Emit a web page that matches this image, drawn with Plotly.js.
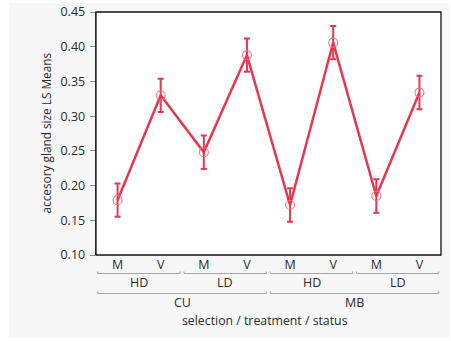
<!DOCTYPE html>
<html>
<head>
<meta charset="utf-8">
<script src="https://cdn.plot.ly/plotly-3.0.1.min.js"></script>
<style>
  html, body { margin: 0; padding: 0; background: #ffffff; }
  #chart { position: absolute; left: 9px; top: 3px; width: 441px; height: 335px; }
</style>
</head>
<body>
<div id="chart"></div>
<script>
// LS means of accessory gland size by selection / treatment / status
const selection = ['CU', 'CU', 'CU', 'CU', 'MB', 'MB', 'MB', 'MB'];
const treatment = ['HD', 'HD', 'LD', 'LD', 'HD', 'HD', 'LD', 'LD'];
const status    = ['M', 'V', 'M', 'V', 'M', 'V', 'M', 'V'];
const lsMeans   = [0.179, 0.330, 0.248, 0.388, 0.172, 0.406, 0.185, 0.334];
const stdErr    = [0.024, 0.024, 0.024, 0.024, 0.024, 0.024, 0.024, 0.024];
const yTicks    = [0.10, 0.15, 0.20, 0.25, 0.30, 0.35, 0.40, 0.45];

const FONT = '"Open Sans", "Noto Sans", sans-serif';
const RED = '#e8364f';
const TEXT = '#2b2b2b';
const BRACKET = '#a6a6a6';
const LABEL_SIZE = 12.5;

const W = 441, H = 335;
const M = { l: 87, r: 9, t: 9, b: 83 };
const plotW = W - M.l - M.r;
const plotH = H - M.t - M.b;
const px = p => -p / plotH;   // pixels below the x axis -> paper y

const xs = status.map((_, i) => i);

// group spans for the nested category levels
function groups(keyFn) {
  const out = [];
  xs.forEach(i => {
    const k = keyFn(i);
    const last = out[out.length - 1];
    if (last && last.key === k) last.end = i;
    else out.push({ key: k, label: k.split('|').pop(), start: i, end: i });
  });
  return out;
}
const treatGroups = groups(i => selection[i] + '|' + treatment[i]);
const selGroups = groups(i => selection[i]);

const shapes = [];
const annotations = [];
function bracket(g, yPix, labelPix) {
  const x0 = g.start - 0.46, x1 = g.end + 0.45;
  const y = px(yPix), yUp = px(yPix - 2);
  shapes.push({
    type: 'path', xref: 'x', yref: 'paper',
    path: `M ${x0},${yUp} L ${x0},${y} L ${x1},${y} L ${x1},${yUp}`,
    line: { color: BRACKET, width: 1 }
  });
  annotations.push({
    xref: 'x', yref: 'paper', x: (g.start + g.end) / 2, y: px(labelPix),
    text: g.label, showarrow: false, yanchor: 'middle',
    font: { family: FONT, size: LABEL_SIZE, color: TEXT }
  });
}
treatGroups.forEach(g => bracket(g, 18.5, 27.5));
selGroups.forEach(g => bracket(g, 38.5, 47.5));

// x axis title under the nested labels
annotations.push({
  xref: 'paper', yref: 'paper', x: 0.49, y: px(66), yanchor: 'middle',
  text: 'selection / treatment / status', showarrow: false,
  font: { family: FONT, size: 12.3, color: TEXT }
});

// y axis title, rotated, left of the tick labels
annotations.push({
  xref: 'paper', yref: 'paper', x: -51 / plotW, y: 0.5,
  xanchor: 'center', yanchor: 'middle', textangle: -90,
  text: 'accesory gland size LS Means', showarrow: false,
  font: { family: FONT, size: 11.8, color: TEXT }
});

// frame around the plotting area
shapes.push({
  type: 'rect', xref: 'paper', yref: 'paper', x0: 0, x1: 1, y0: 0, y1: 1,
  line: { color: '#111111', width: 1.3 }, layer: 'above'
});

const trace = {
  x: xs, y: lsMeans, type: 'scatter', mode: 'lines+markers',
  line: { color: RED, width: 2.5 },
  marker: { symbol: 'circle-open', size: 9, color: 'rgba(240,110,130,0.9)', line: { width: 1.2 } },
  error_y: { type: 'data', array: stdErr, visible: true, color: RED, thickness: 2, width: 3 },
  hoverinfo: 'skip'
};

const layout = {
  width: W, height: H,
  margin: M,
  paper_bgcolor: '#f7f7f7',
  plot_bgcolor: '#ffffff',
  showlegend: false,
  xaxis: {
    type: 'linear', range: [-0.5, 7.5], fixedrange: true,
    tickvals: xs, ticktext: status, ticks: '',
    showgrid: false, zeroline: false, showline: false,
    tickfont: { family: FONT, size: LABEL_SIZE, color: TEXT }
  },
  yaxis: {
    range: [0.10, 0.45], tickvals: yTicks, tickformat: '.2f',
    ticks: 'outside', ticklen: 5, tickcolor: '#8a8a8a', tickwidth: 1,
    ticklabelstandoff: 2,
    showgrid: false, zeroline: false, showline: true, linecolor: '#555555', linewidth: 1.3,
    tickfont: { family: FONT, size: LABEL_SIZE, color: TEXT }
  },
  shapes: shapes,
  annotations: annotations
};

Plotly.newPlot('chart', [trace], layout, { displayModeBar: false, staticPlot: true });
</script>
</body>
</html>
